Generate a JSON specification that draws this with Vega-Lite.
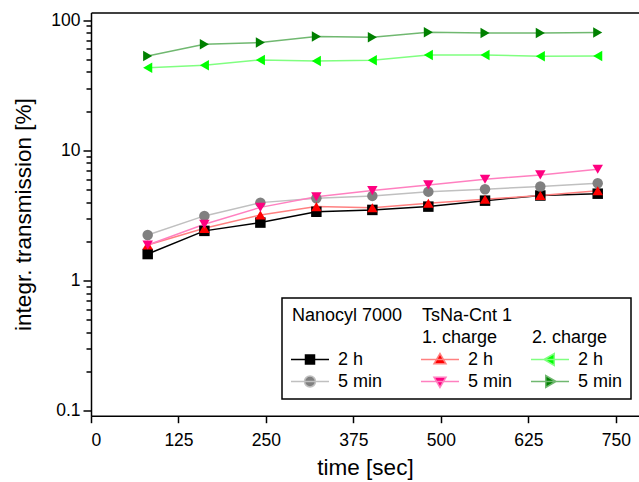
{
  "$schema": "https://vega.github.io/schema/vega-lite/v6.json",
  "width": 548,
  "height": 403.2,
  "autosize": "none",
  "padding": {"left": 91, "top": 12.5, "right": 0, "bottom": 66.3},
  "background": "white",
  "config": {
    "view": {"stroke": null},
    "axis": {
      "domainColor": "black", "domainWidth": 1.5, "tickColor": "black", "tickWidth": 1.5,
      "labelFont": "Liberation Sans", "labelFontSize": 17.5, "labelColor": "black",
      "titleFont": "Liberation Sans", "titleFontSize": 22.5, "titleFontWeight": "normal", "titleColor": "black",
      "grid": false
    }
  },
  "data": {"values": [
    {"s": "N2h", "t": 81, "v": 1.6}, {"s": "N2h", "t": 162, "v": 2.41}, {"s": "N2h", "t": 242, "v": 2.79}, {"s": "N2h", "t": 322, "v": 3.38}, {"s": "N2h", "t": 402, "v": 3.49}, {"s": "N2h", "t": 482, "v": 3.7}, {"s": "N2h", "t": 563, "v": 4.11}, {"s": "N2h", "t": 642, "v": 4.5}, {"s": "N2h", "t": 724, "v": 4.65},
    {"s": "N5m", "t": 81, "v": 2.24}, {"s": "N5m", "t": 162, "v": 3.14}, {"s": "N5m", "t": 242, "v": 3.97}, {"s": "N5m", "t": 322, "v": 4.29}, {"s": "N5m", "t": 402, "v": 4.47}, {"s": "N5m", "t": 482, "v": 4.82}, {"s": "N5m", "t": 563, "v": 5.03}, {"s": "N5m", "t": 642, "v": 5.28}, {"s": "N5m", "t": 724, "v": 5.59},
    {"s": "C1_2h", "t": 81, "v": 1.88}, {"s": "C1_2h", "t": 162, "v": 2.52}, {"s": "C1_2h", "t": 242, "v": 3.19}, {"s": "C1_2h", "t": 322, "v": 3.7}, {"s": "C1_2h", "t": 402, "v": 3.63}, {"s": "C1_2h", "t": 482, "v": 3.93}, {"s": "C1_2h", "t": 563, "v": 4.21}, {"s": "C1_2h", "t": 642, "v": 4.51}, {"s": "C1_2h", "t": 724, "v": 4.9},
    {"s": "C1_5m", "t": 81, "v": 1.88}, {"s": "C1_5m", "t": 162, "v": 2.71}, {"s": "C1_5m", "t": 242, "v": 3.65}, {"s": "C1_5m", "t": 322, "v": 4.41}, {"s": "C1_5m", "t": 402, "v": 4.91}, {"s": "C1_5m", "t": 482, "v": 5.43}, {"s": "C1_5m", "t": 563, "v": 6.0}, {"s": "C1_5m", "t": 642, "v": 6.48}, {"s": "C1_5m", "t": 724, "v": 7.16},
    {"s": "C2_2h", "t": 81, "v": 43.1}, {"s": "C2_2h", "t": 162, "v": 45.0}, {"s": "C2_2h", "t": 242, "v": 49.4}, {"s": "C2_2h", "t": 322, "v": 48.5}, {"s": "C2_2h", "t": 402, "v": 49.1}, {"s": "C2_2h", "t": 482, "v": 54.0}, {"s": "C2_2h", "t": 563, "v": 54.0}, {"s": "C2_2h", "t": 642, "v": 52.8}, {"s": "C2_2h", "t": 724, "v": 53.0},
    {"s": "C2_5m", "t": 81, "v": 53.0}, {"s": "C2_5m", "t": 162, "v": 65.2}, {"s": "C2_5m", "t": 242, "v": 67.1}, {"s": "C2_5m", "t": 322, "v": 74.6}, {"s": "C2_5m", "t": 402, "v": 73.8}, {"s": "C2_5m", "t": 482, "v": 80.6}, {"s": "C2_5m", "t": 563, "v": 79.6}, {"s": "C2_5m", "t": 642, "v": 79.6}, {"s": "C2_5m", "t": 724, "v": 80.1}
  ]},
  "layer": [
    {
      "mark": {"type": "line", "strokeWidth": 1.5},
      "encoding": {
        "x": {"field": "t", "type": "quantitative", "scale": {"domain": [0, 783], "nice": false, "zero": false},
              "axis": {"orient": "bottom", "values": [0, 125, 250, 375, 500, 625, 750], "format": "d", "tickSize": 7, "labelPadding": 9, "title": "time [sec]", "titlePadding": 7}},
        "y": {"field": "v", "type": "quantitative", "scale": {"type": "log", "domain": [0.092, 114.2], "nice": false},
              "axis": {"orient": "left", "values": [0.1, 1, 10, 100], "format": "~g", "tickSize": 8, "labelPadding": 3, "title": "integr. transmission [%]", "titlePadding": 15}},
        "stroke": {"field": "s", "type": "nominal",
          "scale": {"domain": ["hA", "hB", "hC", "hD", "hE", "hF", "N2h", "C1_2h", "C2_2h", "N5m", "C1_5m", "C2_5m"],
                    "range": ["transparent", "transparent", "transparent", "transparent", "transparent", "transparent", "#000000", "#ff8080", "#80ff80", "#c0c0c0", "#ff80c0", "#70b870"]},
          "legend": {
            "orient": "none", "direction": "horizontal", "legendX": 191, "legendY": 285.5, "columns": 3, "title": null,
            "padding": 8, "strokeColor": "black", "fillColor": "white",
            "columnPadding": 15, "rowPadding": 3,
            "symbolSize": 289, "symbolStrokeWidth": 1.5, "symbolType": "M-1,0H3.47",
            "labelFont": "Liberation Sans", "labelFontSize": 18, "labelColor": "black", "labelOffset": 29, "labelLimit": 300,
            "labelExpr": "datum.value==='hA'?'Nanocyl 7000':datum.value==='hB'?'TsNa-Cnt 1':datum.value==='hE'?'1. charge':datum.value==='hF'?'2. charge':(datum.value==='hC'||datum.value==='hD')?'':indexof(datum.value,'2h')>=0?'2 h':'5 min'",
            "encode": {
              "legend": {"update": {"strokeWidth": {"value": 1.5}}},
              "symbols": {"update": {
                "shape": {"signal": "datum.value==='N2h'?'M-1,0H3.47M0.705,-0.53H1.765V0.53H0.705Z':datum.value==='N5m'?'M-1,0H3.47M1.882,0A0.647,0.647,0,1,1,0.588,0A0.647,0.647,0,1,1,1.882,0Z':datum.value==='C1_2h'?'M-1,0H3.47M1.235,-0.7L1.94,0.5L0.53,0.5Z':datum.value==='C1_5m'?'M-1,0H3.47M1.235,0.7L1.94,-0.5L0.53,-0.5Z':datum.value==='C2_2h'?'M-1,0H3.47M0.535,0L1.735,-0.7L1.735,0.7Z':datum.value==='C2_5m'?'M-1,0H3.47M1.935,0L0.735,-0.7L0.735,0.7Z':'M-1,0H3.47'"},
                "fill": {"signal": "datum.value==='N2h'?'#000000':datum.value==='N5m'?'#808080':datum.value==='C1_2h'?'#ff0000':datum.value==='C1_5m'?'#ff0080':datum.value==='C2_2h'?'#00ff00':datum.value==='C2_5m'?'#008000':'transparent'"},
                "opacity": {"signal": "indexof(datum.value,'h')===0?0:1"}
              }},
              "labels": {"update": {"dx": {"signal": "indexof(datum.value,'h')===0?-46:0"}}}
            }
          }}
      }
    },
    {
      "mark": {"type": "point", "filled": true, "size": 110, "opacity": 1, "strokeWidth": 0},
      "encoding": {
        "x": {"field": "t", "type": "quantitative",
              "axis": {"orient": "top", "labels": false, "ticks": false, "title": null, "domain": true}},
        "y": {"field": "v", "type": "quantitative",
              "axis": {"orient": "left", "values": [0.2, 0.3, 0.4, 0.5, 0.6, 0.7, 0.8, 0.9, 2, 3, 4, 5, 6, 7, 8, 9, 20, 30, 40, 50, 60, 70, 80, 90], "labels": false, "tickSize": 5, "title": null, "domain": false}},
        "fill": {"field": "s", "type": "nominal", "legend": null,
          "scale": {"domain": ["N2h", "N5m", "C1_2h", "C1_5m", "C2_2h", "C2_5m"], "range": ["#000000", "#808080", "#ff0000", "#ff0080", "#00ff00", "#008000"]}},
        "shape": {"field": "s", "type": "nominal", "legend": null,
          "scale": {"domain": ["N2h", "N5m", "C1_2h", "C1_5m", "C2_2h", "C2_5m"], "range": ["square", "circle", "triangle-up", "triangle-down", "triangle-left", "triangle-right"]}}
      }
    }
  ],
  "resolve": {"axis": {"x": "independent", "y": "independent"}}
}
